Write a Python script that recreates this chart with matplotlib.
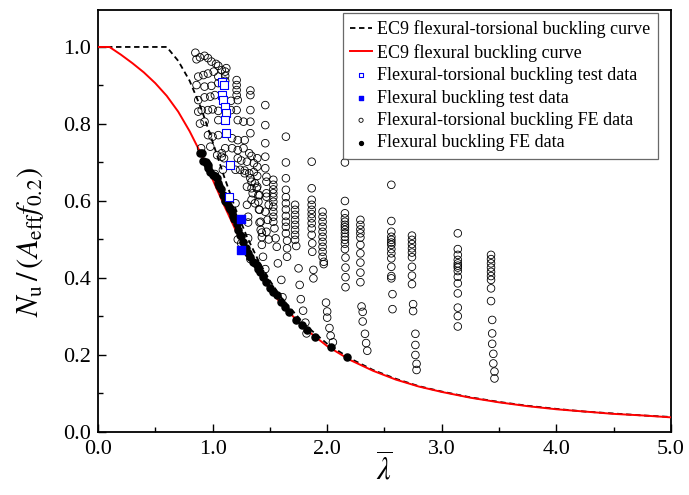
import matplotlib
import matplotlib.pyplot as plt
from matplotlib.ticker import MultipleLocator, FormatStrFormatter

matplotlib.use("Agg")

plt.rcParams["font.family"] = ["Liberation Serif", "DejaVu Serif"]
plt.rcParams["mathtext.fontset"] = "stix"

# EC9 design curves, read along the slenderness axis
curve_lam = [0.0, 0.1, 0.2, 0.3, 0.4, 0.5, 0.6, 0.7, 0.8, 0.9, 1.0, 1.1, 1.2,
             1.3, 1.4, 1.5, 1.6, 1.8, 2.0, 2.2, 2.4, 2.6, 2.8, 3.0, 3.25,
             3.5, 3.75, 4.0, 4.25, 4.5, 4.75, 5.0]
flex_curve = [1.0, 1.0, 0.980, 0.958, 0.934, 0.906, 0.873, 0.832, 0.781,
              0.722, 0.656, 0.589, 0.525, 0.467, 0.416, 0.371, 0.332, 0.270,
              0.223, 0.187, 0.159, 0.136, 0.118, 0.104, 0.089, 0.077, 0.067,
              0.059, 0.053, 0.047, 0.043, 0.038]
ft_curve = [1.0, 1.0, 1.0, 1.0, 1.0, 1.0, 1.0, 0.964, 0.912, 0.841, 0.754,
            0.664, 0.580, 0.507, 0.445, 0.393, 0.349, 0.280, 0.229, 0.191,
            0.161, 0.138, 0.119, 0.105, 0.090, 0.078, 0.068, 0.060, 0.053,
            0.048, 0.043, 0.039]

# test data
ft_test_x = [1.08, 1.10, 1.08, 1.09, 1.11, 1.12, 1.11, 1.12, 1.15, 1.145]
ft_test_y = [0.910, 0.900, 0.875, 0.862, 0.845, 0.828, 0.810, 0.776, 0.694, 0.611]
fb_test_x = [1.245, 1.245]
fb_test_y = [0.552, 0.472]

# flexural-torsional FE results
ft_fe_x = [
    0.85, 0.86, 0.89, 0.93, 0.96, 0.99, 1.03, 1.05, 1.11, 1.11, 1.12,
    0.875, 0.92, 0.96, 1.01, 1.05, 1.08,
    0.86, 0.93, 0.99, 1.05, 1.11,
    1.21, 1.21, 1.21, 1.21, 1.22, 1.33, 1.33,
    0.875, 0.93, 0.98, 1.02, 1.16,
    0.875, 0.905, 0.96, 1.00, 1.05, 1.16, 1.21, 1.33,
    0.89, 0.93, 1.05, 1.22, 1.27, 1.33,
    0.96, 1.00, 1.05, 1.17, 1.22, 1.28, 1.33,
    0.98, 1.11, 1.17, 1.22, 1.27, 1.32, 1.34, 1.39,
    1.08, 1.10, 1.22, 1.25, 1.30, 1.36, 1.39,
    1.20, 1.24, 1.28, 1.32, 1.36, 1.39,
    0.90, 1.04, 1.08, 1.09, 1.02,
    1.33, 1.37, 1.30, 1.34, 1.39, 1.35, 1.41, 1.34, 1.40, 1.30, 1.41, 1.20,
    1.31, 1.41, 1.31, 1.42, 1.43, 1.43, 1.44, 1.25, 1.22, 1.31, 1.42, 1.43,
    1.33, 1.46,
    1.28, 1.34, 1.385, 1.40, 1.37, 1.405, 1.47, 1.47, 1.49, 1.46, 1.48,
    1.47, 1.49,
    1.46, 1.46, 1.46, 1.46, 1.46, 1.47, 1.47,
    1.53, 1.53, 1.53, 1.53, 1.53, 1.53, 1.53, 1.53, 1.53, 1.53, 1.54,
    1.55, 1.56, 1.57, 1.60,
    1.64, 1.64, 1.64, 1.64, 1.64, 1.64, 1.64, 1.64, 1.64, 1.64, 1.64,
    1.65, 1.65, 1.65,
    1.72, 1.72, 1.72, 1.72, 1.72, 1.72, 1.72, 1.72, 1.73, 1.75, 1.76,
    1.61, 1.77, 1.79, 1.81, 1.82,
    1.865, 1.865, 1.865, 1.865, 1.865, 1.865, 1.865, 1.865, 1.865, 1.865,
    1.87, 1.87, 1.88, 1.88,
    1.96, 1.96, 1.96, 1.96, 1.96, 1.96, 1.96, 1.96, 1.96, 1.96, 1.97, 1.97,
    1.99, 2.00, 2.00, 2.02, 2.03, 2.05,
    2.155, 2.155, 2.155, 2.155, 2.155, 2.155, 2.155, 2.155, 2.155, 2.155,
    2.155, 2.155, 2.155, 2.16, 2.16, 2.16, 2.16,
    2.29, 2.29, 2.29, 2.29, 2.29, 2.29, 2.29, 2.29, 2.29, 2.29, 2.30, 2.31,
    2.31, 2.33, 2.34, 2.35,
    2.56, 2.56, 2.56, 2.56, 2.56, 2.56, 2.56, 2.56, 2.56, 2.56, 2.56, 2.56,
    2.56, 2.57, 2.57,
    2.74, 2.74, 2.74, 2.74, 2.74, 2.74, 2.74, 2.74, 2.74, 2.75, 2.75, 2.77,
    2.77, 2.77, 2.78, 2.78,
    3.14, 3.14, 3.14, 3.14, 3.14, 3.14, 3.14, 3.14, 3.14, 3.14, 3.14, 3.14,
    3.14, 3.14,
    3.43, 3.43, 3.43, 3.43, 3.43, 3.43, 3.43, 3.43, 3.43, 3.44, 3.44, 3.44,
    3.45, 3.45, 3.46, 3.46,
]
ft_fe_y = [
    0.985, 0.968, 0.973, 0.977, 0.971, 0.962, 0.956, 0.951, 0.936, 0.925, 0.945,
    0.923, 0.927, 0.931, 0.936, 0.923, 0.940,
    0.901, 0.897, 0.899, 0.906, 0.912,
    0.914, 0.901, 0.888, 0.875, 0.862, 0.887, 0.875,
    0.862, 0.869, 0.871, 0.875, 0.860,
    0.832, 0.836, 0.836, 0.838, 0.834, 0.836, 0.836, 0.836,
    0.801, 0.806, 0.810, 0.810, 0.806, 0.806,
    0.771, 0.767, 0.771, 0.763, 0.758, 0.758, 0.776,
    0.741, 0.737, 0.737, 0.732, 0.737, 0.724, 0.717, 0.711,
    0.724, 0.711, 0.711, 0.705, 0.702, 0.698, 0.689,
    0.681, 0.681, 0.679, 0.672, 0.675, 0.665,
    0.737, 0.719, 0.715, 0.681, 0.670,
    0.659, 0.646, 0.637, 0.633, 0.637, 0.620, 0.615, 0.603, 0.598, 0.590,
    0.577, 0.594,
    0.559, 0.544, 0.544, 0.525, 0.506, 0.486, 0.455, 0.490, 0.500, 0.503,
    0.546, 0.518,
    0.449, 0.423,
    0.672, 0.650, 0.633, 0.615, 0.594, 0.578, 0.663, 0.620, 0.590, 0.572,
    0.551, 0.520, 0.500,
    0.849, 0.797, 0.750, 0.715, 0.685, 0.650, 0.611,
    0.655, 0.642, 0.630, 0.620, 0.610, 0.598, 0.585, 0.572, 0.559, 0.546,
    0.529, 0.503, 0.481, 0.438, 0.395,
    0.767, 0.700, 0.659, 0.629, 0.610, 0.594, 0.578, 0.561, 0.546, 0.533,
    0.516, 0.497, 0.477, 0.455,
    0.590, 0.577, 0.564, 0.551, 0.538, 0.525, 0.512, 0.499, 0.483, 0.425,
    0.382,
    0.350, 0.345, 0.315, 0.284, 0.256,
    0.702, 0.633, 0.603, 0.590, 0.577, 0.566, 0.555, 0.542, 0.529, 0.512,
    0.490, 0.468, 0.421, 0.399,
    0.572, 0.559, 0.546, 0.533, 0.520, 0.507, 0.494, 0.481, 0.468, 0.455,
    0.442, 0.436,
    0.336, 0.313, 0.297, 0.270, 0.250, 0.233,
    0.700, 0.600, 0.568, 0.555, 0.546, 0.538, 0.532, 0.525, 0.516, 0.507,
    0.499, 0.489, 0.475, 0.453, 0.427, 0.402, 0.376,
    0.551, 0.538, 0.526, 0.516, 0.505, 0.486, 0.464, 0.440, 0.414, 0.389,
    0.326, 0.312, 0.287, 0.255, 0.231, 0.211,
    0.642, 0.548, 0.520, 0.507, 0.499, 0.492, 0.486, 0.475, 0.464, 0.451,
    0.429, 0.405, 0.399, 0.358, 0.319,
    0.510, 0.499, 0.488, 0.477, 0.466, 0.454, 0.429, 0.406, 0.384, 0.332,
    0.314, 0.255, 0.226, 0.200, 0.177, 0.161,
    0.516, 0.475, 0.460, 0.447, 0.438, 0.432, 0.427, 0.418, 0.403, 0.386,
    0.360, 0.323, 0.301, 0.274,
    0.460, 0.449, 0.438, 0.427, 0.416, 0.405, 0.395, 0.373, 0.340, 0.291,
    0.256, 0.229, 0.203, 0.178, 0.157, 0.139,
]

# flexural FE results
fb_fe_x = [0.89, 0.905, 0.92, 0.94, 0.95, 0.96, 0.957, 0.977, 1.00, 1.02,
           1.035, 1.05, 1.06, 1.07, 1.093, 1.10, 1.11, 1.122, 1.14, 1.15,
           1.166, 1.18, 1.19, 1.21, 1.219, 1.239, 1.25, 1.268, 1.29, 1.31,
           1.33, 1.355, 1.37, 1.385, 1.40, 1.413, 1.44, 1.47, 1.50, 1.53,
           1.56, 1.60, 1.63, 1.67, 1.73, 1.78, 1.82, 1.89, 2.03, 2.17]
fb_fe_y = [0.725, 0.724, 0.705, 0.700, 0.697, 0.694, 0.685, 0.676, 0.668,
           0.664, 0.659, 0.646, 0.640, 0.632, 0.616, 0.612, 0.600, 0.594,
           0.585, 0.578, 0.572, 0.562, 0.553, 0.540, 0.525, 0.512, 0.508,
           0.494, 0.478, 0.464, 0.455, 0.442, 0.438, 0.434, 0.424, 0.416,
           0.403, 0.390, 0.373, 0.364, 0.356, 0.338, 0.325, 0.312, 0.291,
           0.278, 0.265, 0.248, 0.222, 0.194]

fig = plt.figure(figsize=(6.89, 4.95), dpi=100)
ax = fig.add_axes([0.1422, 0.1273, 0.8316, 0.8525])

ax.plot(curve_lam, ft_curve, color="black", lw=1.3, ls=(0, (3, 2)),
        label="EC9 flexural-torsional buckling curve", zorder=2)
ax.plot(curve_lam, flex_curve, color="red", lw=1.4,
        label="EC9 flexural buckling curve", zorder=3)
ax.scatter(ft_fe_x, ft_fe_y, s=30, facecolors="none", edgecolors="black",
           linewidths=0.6, zorder=4, label="Flexural-torsional buckling FE data")
ax.scatter(fb_fe_x, fb_fe_y, s=26, color="black", zorder=5,
           label="Flexural buckling FE data")
ax.scatter(ft_test_x, ft_test_y, s=30, marker="s", facecolors="white",
           edgecolors="blue", linewidths=0.8, zorder=6,
           label="Flexural-torsional buckling test data")
ax.scatter(fb_test_x, fb_test_y, s=30, marker="s", color="blue", zorder=6,
           label="Flexural buckling test data")

ax.set_xlim(0, 5)
ax.set_ylim(0, 1.096)
ax.xaxis.set_major_locator(MultipleLocator(1.0))
ax.xaxis.set_minor_locator(MultipleLocator(0.5))
ax.yaxis.set_major_locator(MultipleLocator(0.2))
ax.yaxis.set_minor_locator(MultipleLocator(0.1))
ax.xaxis.set_major_formatter(FormatStrFormatter("%.1f"))
ax.yaxis.set_major_formatter(FormatStrFormatter("%.1f"))
ax.tick_params(which="both", direction="in", top=False, right=False,
               labelsize=16, width=1.0)
ax.tick_params(which="major", length=6)
ax.tick_params(which="minor", length=3.5)
ax.tick_params(axis="x", which="major", pad=6)
ax.tick_params(axis="y", which="major", pad=5)
for spine in ax.spines.values():
    spine.set_linewidth(1.3)

ax.set_xlabel(r"$\overline{\lambda}$", fontsize=22)
ax.xaxis.set_label_coords(0.5, -0.05)
ax.set_ylabel(r"$N_{\rm u}\,/\,(A_{\rm eff}f_{0.2})$", fontsize=22)
ax.yaxis.set_label_coords(-0.09, 0.45)

handles, labels = ax.get_legend_handles_labels()
order = [0, 1, 4, 5, 2, 3]
leg = ax.legend([handles[i] for i in order], [labels[i] for i in order],
                loc="upper right", bbox_to_anchor=(0.977, 0.992),
                borderaxespad=0, fontsize=13, frameon=True, fancybox=False,
                edgecolor="#444444", handlelength=1.2, handletextpad=0.3,
                labelspacing=0.3, markerscale=0.55, borderpad=0.4)
leg.get_frame().set_linewidth(0.9)

fig.savefig("out.png", dpi=100)
